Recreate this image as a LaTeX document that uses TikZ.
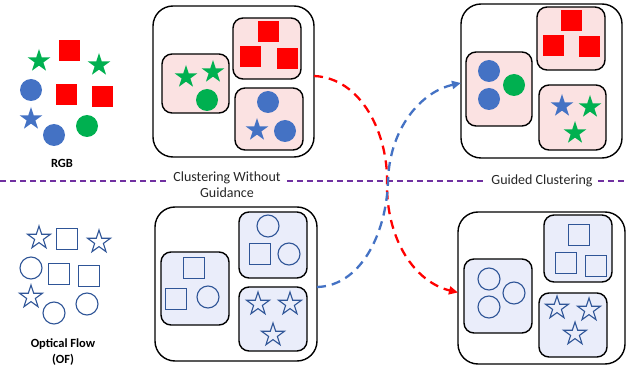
\documentclass[tikz,border=0pt]{standalone}
\usepackage{fontspec}
\setmainfont{Carlito}
\usetikzlibrary{shapes.geometric,arrows.meta,calc}
\definecolor{cred}{RGB}{255,0,0}
\definecolor{cgreen}{RGB}{0,176,80}
\definecolor{cblue}{RGB}{68,114,196}
\definecolor{cdblue}{RGB}{47,85,151}
\definecolor{cpink}{RGB}{251,226,226}
\definecolor{clblue}{RGB}{234,237,250}
\definecolor{cpurple}{RGB}{112,48,160}
\definecolor{ctext}{RGB}{38,38,38}
\begin{document}
\begin{tikzpicture}[x=1pt,y=-1pt,
 outerbox/.style={draw=black,line width=1.4pt,rounded corners=20pt,inner sep=0,outer sep=0},
 pinkbox/.style={draw=black,line width=1.4pt,rounded corners=10pt,fill=cpink,inner sep=0,outer sep=0},
 bluebox/.style={draw=black,line width=1.4pt,rounded corners=10pt,fill=clblue,inner sep=0,outer sep=0},
 sqshape/.style={rectangle,minimum size=21pt,inner sep=0},
 cishape/.style={circle,minimum size=22pt,inner sep=0},
 stshape/.style={star,star points=5,star point ratio=2.6,minimum size=24pt,inner sep=0},
 rsq/.style={sqshape,fill=cred},
 gst/.style={stshape,fill=cgreen},
 bst/.style={stshape,fill=cblue},
 gci/.style={cishape,fill=cgreen},
 bci/.style={cishape,fill=cblue},
 osq/.style={sqshape,draw=cdblue,line width=1.1pt},
 oci/.style={cishape,draw=cdblue,line width=1.1pt},
 ost/.style={stshape,draw=cdblue,line width=1.1pt,line join=miter},
 sepline/.style={draw=cpurple,line width=1.3pt,dash pattern=on 6pt off 4pt},
 redarrow/.style={draw=cred,line width=2.3pt,dash pattern=on 9pt off 6pt,-{Triangle[length=9pt,width=8pt]}},
 bluearrow/.style={draw=cblue,line width=2.3pt,dash pattern=on 9pt off 6pt,-{Triangle[length=9pt,width=8pt]}},
 lbl/.style={text=ctext,font=\fontsize{14}{16}\selectfont,align=center},
 sidelbl/.style={text=black,font=\bfseries\fontsize{12.5}{16}\selectfont,align=center}
]
\useasboundingbox (0,0) rectangle (627,366);

% ---------- left: RGB ----------
\node[rsq] (r1) at (69,51) {};
\node[rsq] (r2) at (66,95) {};
\node[rsq] (r3) at (102,97) {};
\node[gst] (g1) at (39,61) {};
\node[gst] (g2) at (99,65) {};
\node[bci] (b1) at (31,90) {};
\node[bst] (b2) at (31,119) {};
\node[bci] (b3) at (54,135) {};
\node[gci] (g3) at (87,126) {};
\node[sidelbl] (rgb) at (62,163) {RGB};

% ---------- left: OF ----------
\node[ost] (o1) at (39,238) {};
\node[osq] (o2) at (67,239) {};
\node[ost] (o3) at (99,242) {};
\node[oci] (o4) at (31,268) {};
\node[osq] (o5) at (59,274) {};
\node[osq] (o6) at (89,276) {};
\node[ost] (o7) at (31,297) {};
\node[oci] (o8) at (54,313) {};
\node[oci] (o9) at (87,304) {};
\node[sidelbl] (of) at (63,352) {Optical Flow\\(OF)};

% ---------- top-left cluster ----------
\node[outerbox,minimum width=161pt,minimum height=151pt] (TL) at (233.5,81.5) {};
\node[pinkbox,minimum width=67pt,minimum height=59pt] (A1) at (195.5,83.5) {};
\node[pinkbox,minimum width=68pt,minimum height=61pt] (A2) at (267,48.5) {};
\node[pinkbox,minimum width=68pt,minimum height=62pt] (A3) at (269,119) {};
\node[gst] (a11) at (186,77) {};
\node[gst] (a12) at (213,72) {};
\node[gci] (a13) at (207,100) {};
\node[rsq] (a21) at (268,32) {};
\node[rsq] (a22) at (250,57) {};
\node[rsq] (a23) at (287,59) {};
\node[bci] (a31) at (268,102) {};
\node[bst] (a32) at (257,130) {};
\node[bci] (a33) at (285,131) {};

% ---------- top-right cluster ----------
\node[outerbox,minimum width=161pt,minimum height=154pt] (TR) at (541.5,81) {};
\node[pinkbox,minimum width=66pt,minimum height=74pt] (B1) at (499,89) {};
\node[pinkbox,minimum width=68pt,minimum height=63pt] (B2) at (571,38.5) {};
\node[pinkbox,minimum width=67pt,minimum height=65pt] (B3) at (572.5,117.5) {};
\node[bci] (b11) at (489,71) {};
\node[bci] (b12) at (489,99) {};
\node[gci] (b13) at (514,85) {};
\node[rsq] (b21) at (571,21) {};
\node[rsq] (b22) at (553,46) {};
\node[rsq] (b23) at (589,47) {};
\node[bst] (b31) at (562,106) {};
\node[gst] (b32) at (590,107) {};
\node[gst] (b33) at (575,133) {};

% ---------- bottom-left cluster ----------
\node[outerbox,minimum width=162pt,minimum height=154pt] (BL) at (236,284) {};
\node[bluebox,minimum width=68pt,minimum height=73pt] (C1) at (195,288.5) {};
\node[bluebox,minimum width=68pt,minimum height=66pt] (C2) at (273,245) {};
\node[bluebox,minimum width=68pt,minimum height=64pt] (C3) at (273,319) {};
\node[osq] (c11) at (194,268) {};
\node[osq] (c12) at (176,299) {};
\node[oci] (c13) at (208,297) {};
\node[oci] (c21) at (268,226) {};
\node[osq] (c22) at (260,254) {};
\node[oci] (c23) at (289,254) {};
\node[ost] (c31) at (258,304) {};
\node[ost] (c32) at (290,304) {};
\node[ost] (c33) at (273,335) {};

% ---------- bottom-right cluster ----------
\node[outerbox,minimum width=167pt,minimum height=152pt] (BR) at (541.5,288) {};
\node[bluebox,minimum width=68pt,minimum height=74pt] (D1) at (498,296) {};
\node[bluebox,minimum width=68pt,minimum height=67pt] (D2) at (578,248.5) {};
\node[bluebox,minimum width=68pt,minimum height=64pt] (D3) at (573,325) {};
\node[oci] (d11) at (489,279) {};
\node[oci] (d12) at (514,293) {};
\node[oci] (d13) at (489,307) {};
\node[osq] (d21) at (579,235) {};
\node[osq] (d22) at (566,263) {};
\node[osq] (d23) at (596,266) {};
\node[ost] (d31) at (557,308) {};
\node[ost] (d32) at (589,310) {};
\node[ost] (d33) at (575,334) {};

% ---------- separator line and labels ----------
\coordinate (L0) at (0,181);
\coordinate (L1) at (627,181);
\node[lbl,inner xsep=6pt,inner ysep=0pt] (CW) at (227,185) {Clustering Without\\Guidance};
\node[lbl,inner xsep=5pt,inner ysep=0pt] (GC) at (542,181) {Guided Clustering};
\draw[sepline] (L0) -- (L0 -| CW.west);
\draw[sepline] (L0 -| CW.east) -- (L0 -| GC.west);
\draw[sepline] (L0 -| GC.east) -- (L1);

% ---------- arrows ----------
\draw[redarrow] ([yshift=5.5pt]TL.east) .. controls (362,78) and (388,135) .. (387,182)
  .. controls (386,240) and (415,282) .. ([yshift=-4.5pt]BR.west);
\draw[bluearrow] ([yshift=-3pt]BL.east) .. controls (360,286) and (386,235) .. (388,182)
  .. controls (389,130) and (420,92) .. ([yshift=-2pt]TR.west);
\end{tikzpicture}
\end{document}
